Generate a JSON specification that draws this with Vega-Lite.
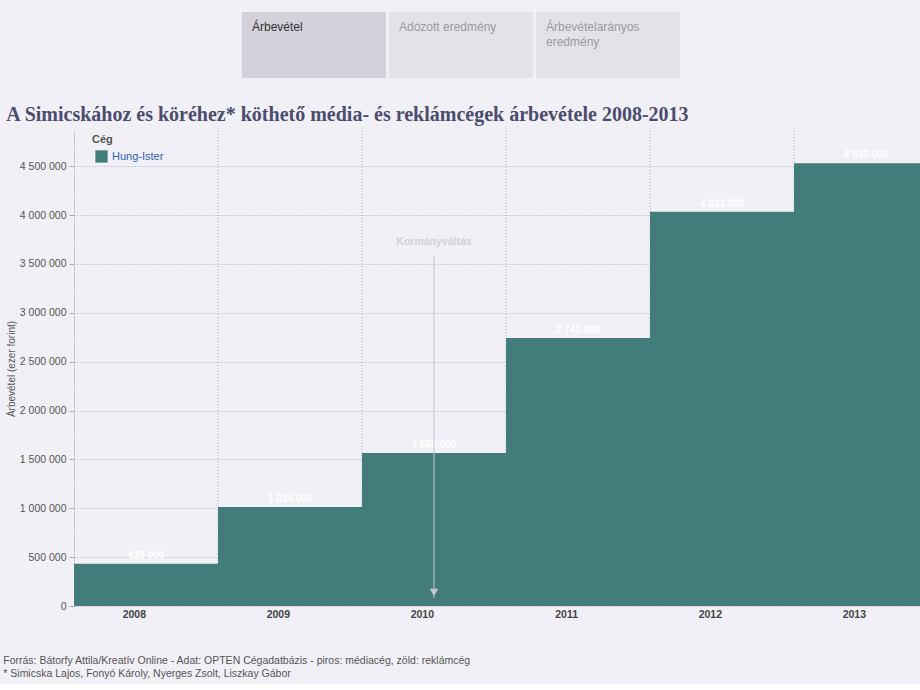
{
  "$schema": "https://vega.github.io/schema/vega-lite/v6.json",
  "background": "#f1f0f7",
  "padding": {"left": 3, "top": 12, "right": 0, "bottom": 5},
  "config": {
    "locale": {"number": {"decimal": ",", "thousands": " ", "grouping": [3], "currency": ["", ""]}},
    "view": {"stroke": null},
    "font": "Liberation Sans"
  },
  "datasets": {
    "tabs": [
      {"tab": "Árbevétel", "state": "active"},
      {"tab": "Adózott eredmény", "state": "inactive"},
      {"tab": "Árbevételarányos\neredmény", "state": "inactive"}
    ],
    "bars": [
      {"year": 2008, "company": "Hung-Ister", "value": 433000},
      {"year": 2009, "company": "Hung-Ister", "value": 1014000},
      {"year": 2010, "company": "Hung-Ister", "value": 1566000},
      {"year": 2011, "company": "Hung-Ister", "value": 2743000},
      {"year": 2012, "company": "Hung-Ister", "value": 4033000},
      {"year": 2013, "company": "Hung-Ister", "value": 4530000}
    ],
    "note": [
      {"year": 2010, "label": "Kormányváltás", "textY": 3720000, "top": 3590000, "bottom": 80000, "head": 140000}
    ]
  },
  "title": {
    "text": ["Forrás: Bátorfy Attila/Kreatív Online - Adat: OPTEN Cégadatbázis - piros: médiacég, zöld: reklámcég", "* Simicska Lajos, Fonyó Károly, Nyerges Zsolt, Liszkay Gábor"],
    "orient": "bottom", "anchor": "start", "frame": "bounds", "dx": -3,
    "font": "Liberation Sans", "fontSize": 10.5, "fontWeight": "normal", "color": "#555555",
    "lineHeight": 13, "offset": 36
  },
  "spacing": 27,
  "resolve": {"scale": {"color": "independent"}, "legend": {"color": "independent"}},
  "vconcat": [
    {
      "spacing": 0,
      "hconcat": [
        {
          "width": 168,
          "height": 66,
          "data": {"values": []},
          "mark": "point"
        },
        {
          "width": 438,
          "height": 66,
          "data": {"name": "tabs"},
          "layer": [
            {
              "mark": {"type": "bar"},
              "encoding": {
                "x": {"field": "tab", "type": "nominal", "sort": null, "scale": {"paddingInner": 0.02, "paddingOuter": 0}, "axis": null},
                "color": {"field": "state", "type": "nominal", "scale": {"domain": ["active", "inactive"], "range": ["#d3d2da", "#e3e2e8"]}, "legend": null}
              }
            },
            {
              "mark": {"type": "text", "align": "left", "baseline": "top", "dx": 10, "dy": -23, "fontSize": 12, "lineBreak": "\n", "lineHeight": 15},
              "encoding": {
                "x": {"field": "tab", "type": "nominal", "sort": null, "bandPosition": 0},
                "text": {"field": "tab"},
                "color": {"field": "state", "type": "nominal", "scale": {"domain": ["active", "inactive"], "range": ["#333333", "#9a9aa2"]}, "legend": null}
              }
            }
          ],
          "resolve": {"scale": {"color": "independent"}}
        }
      ]
    },
    {
      "width": 846,
      "height": 475,
      "title": {
        "text": "A Simicskához és köréhez* köthető média- és reklámcégek árbevétele 2008-2013",
        "anchor": "start", "frame": "bounds",
        "font": "Liberation Serif", "fontSize": 20, "fontWeight": "bold", "color": "#4b4d6e", "offset": 6
      },
      "layer": [
        {
          "data": {"name": "bars"},
          "mark": {"type": "rule", "clip": true, "strokeDash": [1, 2], "color": "#a9a9b8", "strokeWidth": 1},
          "encoding": {
            "x": {"field": "year", "type": "ordinal", "bandPosition": 0}
          }
        },
        {
          "data": {"name": "bars"},
          "mark": {"type": "bar", "clip": true},
          "encoding": {
            "x": {
              "field": "year", "type": "ordinal",
              "scale": {"range": [0, 864], "paddingInner": 0, "paddingOuter": 0},
              "axis": {"title": null, "ticks": false, "domain": false, "grid": false, "labelAngle": 0, "labelFontWeight": "bold", "labelFontSize": 10.5, "labelColor": "#444444", "labelPadding": 8}
            },
            "y": {
              "field": "value", "type": "quantitative",
              "scale": {"domain": [0, 4860000], "nice": false, "zero": true},
              "axis": {
                "values": [0, 500000, 1000000, 1500000, 2000000, 2500000, 3000000, 3500000, 4000000, 4500000],
                "format": ",d",
                "title": "Árbevétel (ezer forint)",
                "titleFontSize": 10, "titleFontWeight": "normal", "titleColor": "#555555", "titlePadding": 3,
                "labelFontSize": 10.5, "labelColor": "#555555", "labelPadding": 3,
                "tickColor": "#aaaaaa", "tickSize": 5,
                "domain": true, "domainColor": "#cfcfd9",
                "grid": true, "gridColor": "#a9a9b8", "gridDash": [1, 2]
              }
            },
            "color": {
              "field": "company", "type": "nominal",
              "scale": {"range": ["#427d7b"]},
              "legend": {
                "title": "Cég", "orient": "none", "legendX": 18, "legendY": 3,
                "titleFontSize": 11, "titleColor": "#555555", "titleFontWeight": "bold",
                "labelFontSize": 11, "labelColor": "#2f62b8",
                "symbolType": "square", "symbolSize": 150, "symbolStrokeWidth": 0, "symbolOffset": 3
              }
            }
          }
        },
        {
          "data": {"name": "bars"},
          "mark": {"type": "text", "baseline": "bottom", "dy": -3, "fontSize": 10, "fontWeight": "bold", "color": "#ffffff", "clip": true},
          "encoding": {
            "x": {"field": "year", "type": "ordinal"},
            "y": {"field": "value", "type": "quantitative"},
            "text": {"field": "value", "type": "quantitative", "format": ",d"}
          }
        },
        {
          "data": {"name": "note"},
          "mark": {"type": "rule", "color": "#c4c6cf", "strokeWidth": 1},
          "encoding": {
            "x": {"field": "year", "type": "ordinal"},
            "y": {"field": "top", "type": "quantitative"},
            "y2": {"field": "bottom"}
          }
        },
        {
          "data": {"name": "note"},
          "mark": {"type": "point", "shape": "triangle-down", "filled": true, "size": 70, "color": "#c8cad2", "opacity": 1},
          "encoding": {
            "x": {"field": "year", "type": "ordinal"},
            "y": {"field": "head", "type": "quantitative"}
          }
        },
        {
          "data": {"name": "note"},
          "mark": {"type": "text", "fontSize": 10.5, "fontWeight": "bold", "color": "#cfd0d8", "baseline": "middle"},
          "encoding": {
            "x": {"field": "year", "type": "ordinal"},
            "y": {"field": "textY", "type": "quantitative"},
            "text": {"field": "label"}
          }
        }
      ]
    }
  ]
}
